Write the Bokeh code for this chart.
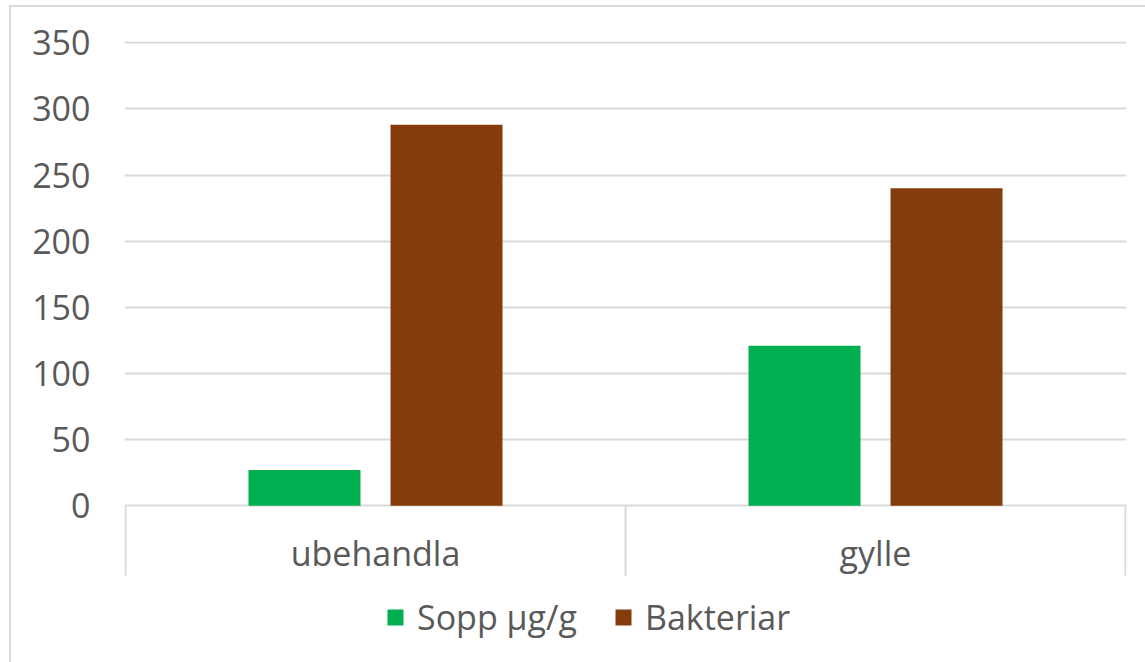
from bokeh.plotting import figure
from bokeh.models import ColumnDataSource, Range1d, FixedTicker
from bokeh.core.properties import value
from bokeh.embed import file_html
from bokeh.resources import INLINE
from bokeh.transform import dodge

categories = ["ubehandla", "gylle"]
sopp = [27, 121]
bakteriar = [288, 240]
series_names = ["Sopp µg/g", "Bakteriar"]
y_ticks = [0, 50, 100, 150, 200, 250, 300, 350]

GREEN = "#00b050"
BROWN = "#843c0c"
TEXT = "#595959"
GRID = "#d9d9d9"
FONT = "Open Sans"
FS = "34px"

n = len(categories)
centers = [i + 0.5 for i in range(n)]
src = ColumnDataSource(dict(x=centers, sopp=sopp, bakteriar=bakteriar, cat=categories))

Y_SEP = -53    # bottom of the category band
Y_LOW = -117   # frame reaches down to hold the legend
p = figure(width=1145, height=662, output_backend="svg", toolbar_location=None,
           x_range=Range1d(-0.002, n + 0.002), y_range=Range1d(Y_LOW, 351),
           min_border_left=124, min_border_right=19, min_border_top=41, min_border_bottom=2)
p.styles = {"box-shadow": "inset 9px 5px 0 0 #ffffff, inset 11px 7px 0 0 #d9d9d9"}
p.outline_line_color = None
p.background_fill_color = "white"
p.border_fill_alpha = 0

p.vbar(x=dodge("x", -0.142, range=p.x_range), top="sopp", width=0.224, source=src,
       fill_color=GREEN, line_color=None, legend_label=series_names[0])
p.vbar(x=dodge("x", 0.142, range=p.x_range), top="bakteriar", width=0.224, source=src,
       fill_color=BROWN, line_color=None, legend_label=series_names[1])

# category separators and labels
seps = list(range(n + 1))
p.segment(x0=seps, y0=[0] * len(seps), x1=seps, y1=[Y_SEP] * len(seps),
          line_color=GRID, line_width=2)
p.text(x="x", y=-36, text="cat", source=src, text_align="center", text_baseline="middle",
       text_font=value(FONT), text_font_size=FS, text_color=TEXT)

# y axis
p.yaxis.ticker = FixedTicker(ticks=y_ticks)
p.yaxis.axis_line_color = None
p.yaxis.major_tick_line_color = None
p.yaxis.minor_tick_line_color = None
p.yaxis.major_tick_out = 0
p.yaxis.major_tick_in = 0
p.yaxis.major_label_standoff = 34
p.yaxis.major_label_text_font = FONT
p.yaxis.major_label_text_font_size = FS
p.yaxis.major_label_text_color = TEXT

p.ygrid.ticker = FixedTicker(ticks=y_ticks)
p.ygrid.bounds = (0, 350)
p.ygrid.grid_line_color = GRID
p.ygrid.grid_line_width = 2
p.xgrid.visible = False
p.xaxis.visible = False

lg = p.legend[0]
lg.orientation = "horizontal"
lg.location = (261, 20)
lg.glyph_width = 20
lg.glyph_height = 20
lg.label_standoff = 12
lg.spacing = 36
lg.padding = 0
lg.margin = 0
lg.border_line_color = None
lg.background_fill_alpha = 0
lg.label_text_font = FONT
lg.label_text_font_size = FS
lg.label_text_color = TEXT

open("out.html", "w").write(file_html(p, INLINE))
